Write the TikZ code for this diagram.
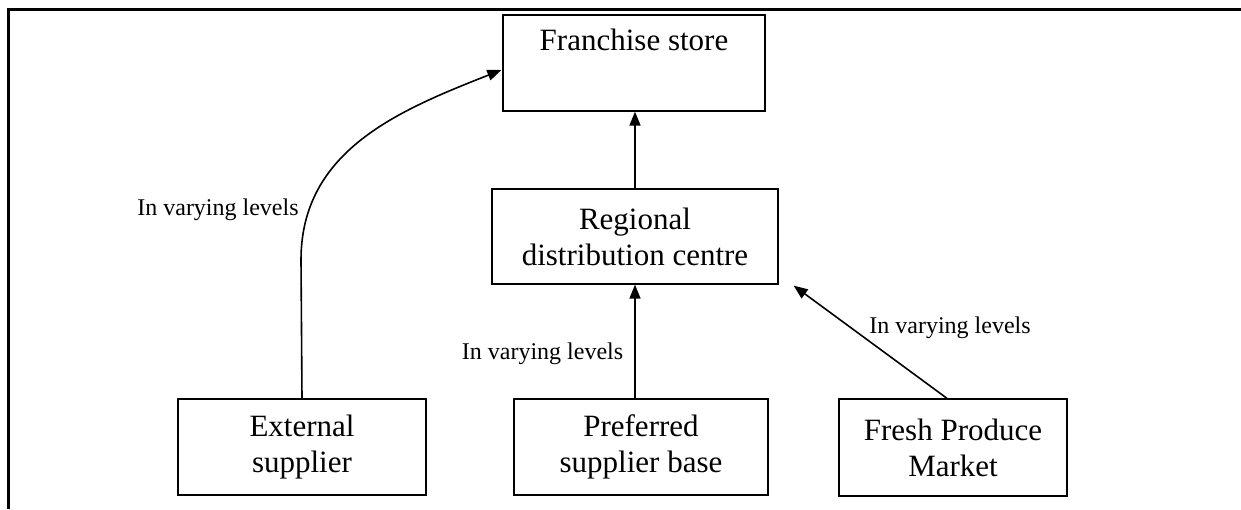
\documentclass[tikz,border=0pt]{standalone}
\usepackage{fontspec}
\setmainfont{Liberation Serif}
\usetikzlibrary{arrows.meta}

\tikzset{
  box/.style={draw,line width=1.3pt,inner sep=0pt,align=center,
    font=\fontsize{31}{36}\selectfont},
  flow/.style={line width=1.6pt,-{Triangle[length=14pt,width=11pt]}},
  lbl/.style={anchor=base,inner sep=0pt,font=\fontsize{24}{28}\selectfont}
}

\begin{document}
\begin{tikzpicture}[x=1pt,y=-1pt]
        \useasboundingbox (0,0) rectangle (1241,509);
        \draw[line width=3pt] (8,509) -- (8,9) -- (1241,9);
        % boxes
        \node[box,minimum width=262pt,minimum height=96pt] (franchise) at (634,63) {Franchise store\\ \strut};
        \node[box,minimum width=286pt,minimum height=95pt] (regional) at (635,236.5) {Regional\\distribution centre};
        \node[box,minimum width=248pt,minimum height=96pt] (external) at (302,447) {External\\supplier};
        \node[box,minimum width=254pt,minimum height=96pt] (preferred) at (641,447) {Preferred\\supplier base};
        \node[box,minimum width=228pt,minimum height=97pt] (fresh) at (953,447.5) {Fresh Produce\\Market};
        % arrows
        \draw[flow] (regional.north) -- (regional.north |- franchise.south);
        \draw[flow] (regional.south |- preferred.north) -- (regional.south);
        \draw[flow] ([xshift=-6pt]fresh.north) -- ([xshift=15pt,yshift=-1pt]regional.south east);
        \draw[flow] (external.north) -- (301,260) .. controls (301,150) and (400,110) .. ([xshift=-1pt,yshift=-7pt]franchise.west);
        % labels
        \node[lbl] (lblext) at (218,215) {In varying levels};
        \node[lbl] (lblpref) at (542.5,359) {In varying levels};
        \node[lbl] (lblfresh) at (950,333) {In varying levels};
    \end{tikzpicture}
\end{document}
